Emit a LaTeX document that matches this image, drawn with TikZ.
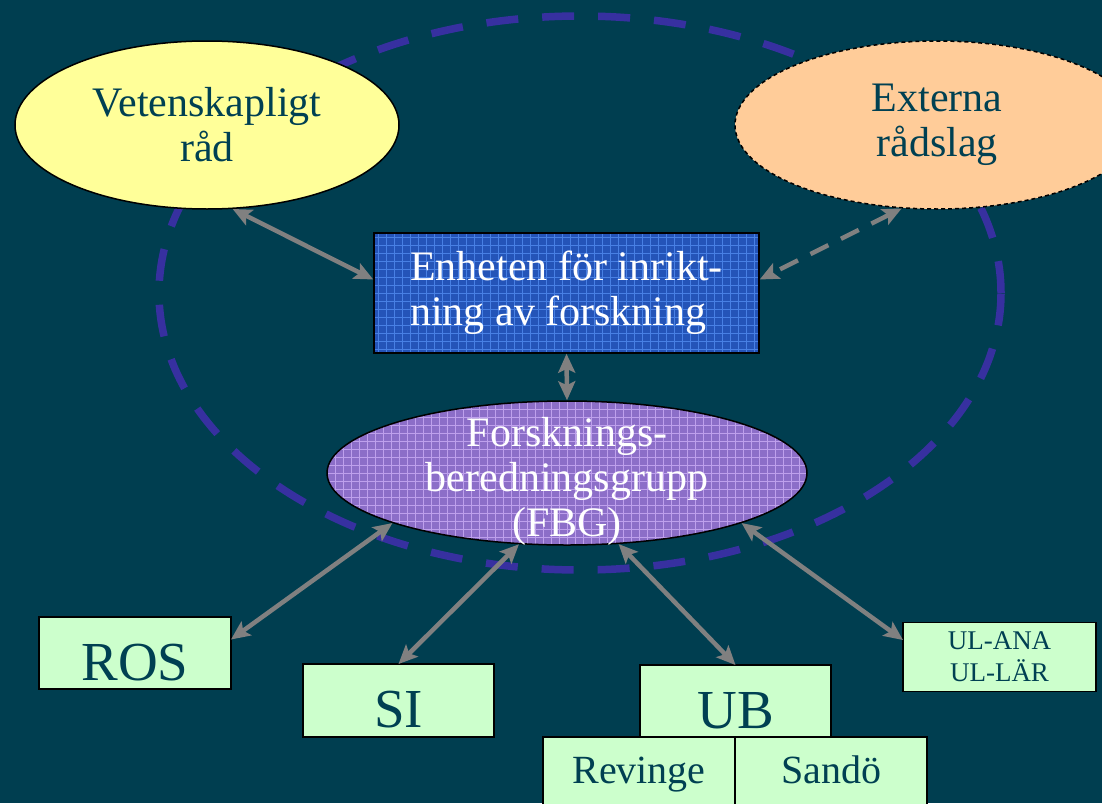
\documentclass[tikz,border=0pt]{standalone}
\usepackage{fontspec}
\setmainfont{Liberation Serif}
\usetikzlibrary{arrows.meta, shapes.geometric, positioning}
\definecolor{slidebg}{RGB}{0,62,80}
\definecolor{ringblue}{RGB}{55,48,160}
\definecolor{textteal}{RGB}{0,64,82}
\definecolor{paleyellow}{RGB}{255,255,153}
\definecolor{paleorange}{RGB}{255,204,153}
\definecolor{palegreen}{RGB}{204,255,204}
\definecolor{unitblue}{RGB}{36,84,184}
\definecolor{unitgrid}{RGB}{72,128,228}
\definecolor{fbgpurple}{RGB}{140,110,200}
\definecolor{fbggrid}{RGB}{190,160,236}
\definecolor{arrowgray}{RGB}{128,128,128}

\begin{document}
\begin{tikzpicture}[x=1pt, y=-1pt, >={Stealth[length=19pt, width=17pt, inset=4pt]},
    council/.style={ellipse, draw=black, line width=1.5pt, inner sep=0pt,
        text=textteal, align=center, font=\fontsize{42}{45}\selectfont},
    unitbox/.style={rectangle, draw=black, line width=1.5pt, fill=palegreen,
        inner sep=0pt, outer sep=0pt, text=textteal},
    bigtext/.style={font=\fontsize{55}{60}\selectfont, text height=54pt, text depth=0pt},
    subtext/.style={font=\fontsize{40}{44}\selectfont, text height=28pt, text depth=8pt},
    gridfill/.style={path picture={\draw[#1, line width=0.6pt]
        (path picture bounding box.south west) grid[step=8pt]
        (path picture bounding box.north east);}},
    link/.style={<->, draw=arrowgray, line width=4.5pt}]

    % Background
    \path[fill=slidebg, use as bounding box] (0,0) rectangle (1102,803);

    % Dashed ring
    \node[ellipse, draw=ringblue, line width=7.5pt, dash pattern=on 32pt off 24pt,
        minimum width=842, minimum height=554, inner sep=0pt] (ring) at (580,293) {};

    % Councils
    \node[council, fill=paleyellow, minimum width=384, minimum height=168]
        (vet) at (207,125) {Vetenskapligt\\råd};
    \node[council, fill=paleorange, dash pattern=on 4pt off 3pt,
        minimum width=404, minimum height=168] (ext) at (937,125) {Externa\\rådslag};

    % Unit and group
    \node[rectangle, draw=black, line width=1.5pt, fill=unitblue, gridfill=unitgrid,
        minimum width=385, minimum height=120, inner sep=0pt, text=white, align=left,
        font=\fontsize{42}{45}\selectfont] (enh) at (566.5,293)
        {Enheten för inrikt-\\ning av forskning};
    \node[ellipse, draw=black, line width=1.5pt, fill=fbgpurple, gridfill=fbggrid,
        minimum width=480, minimum height=144, inner sep=0pt] (fbg) at (567,473) {};
    \node[text=white, align=center, font=\fontsize{42}{45}\selectfont]
        (fbgtext) at (567,481) {Forsknings-\\beredningsgrupp\\(FBG)};

    % Boxes
    \node[unitbox, bigtext, minimum width=192, minimum height=72] (ros) at (135,653) {ROS};
    \node[unitbox, bigtext, minimum width=191, minimum height=73] (si) at (398.5,700.5) {SI};
    \node[unitbox, bigtext, minimum width=191, minimum height=72] (ub) at (735.5,701) {UB};
    \node[unitbox, subtext, minimum width=192, minimum height=72] (rev) at (639,773) {Revinge};
    \node[unitbox, subtext, minimum width=192, minimum height=72, right=0pt of rev] (san) {Sandö};
    \node[unitbox, align=center, font=\fontsize{27}{32}\selectfont,
        minimum width=193, minimum height=69] (ul) at (999.5,657) {UL-ANA\\UL-LÄR};

    % Links
    \draw[link] (vet.-73) -- (enh.176);
    \draw[link, dash pattern=on 20pt off 14pt] (ext.-113) -- (enh.4);
    \draw[link] (enh.south) -- (fbg.north);
    \draw[link] (fbg.-164) -- (ros.8);
    \draw[link] (fbg.-124) -- (si.north);
    \draw[link] (fbg.-54) -- (ub.north);
    \draw[link] (fbg.-16) -- (ul.170);
\end{tikzpicture}
\end{document}
